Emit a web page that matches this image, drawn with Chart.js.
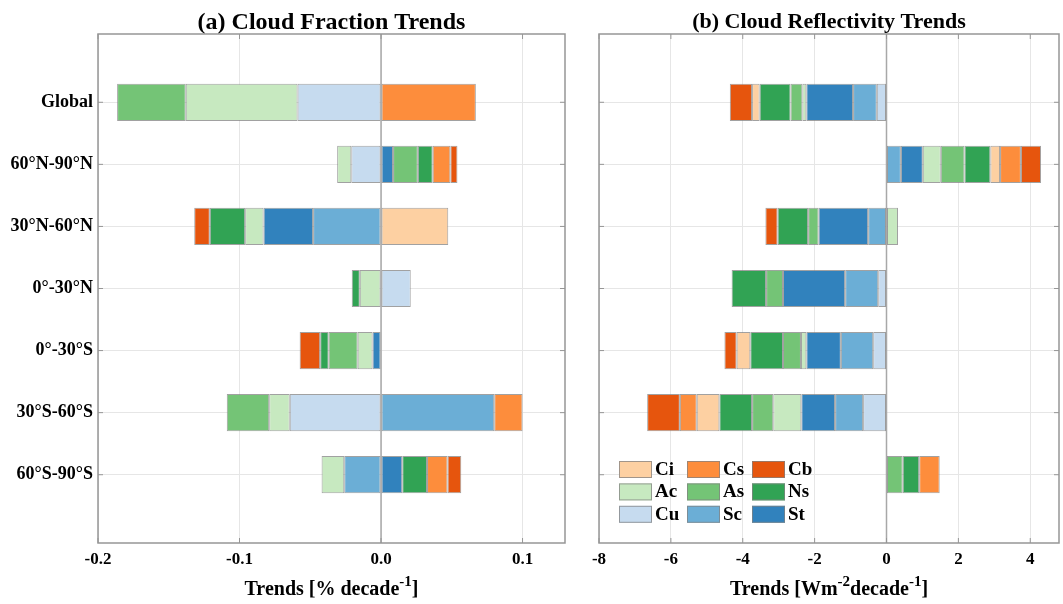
<!DOCTYPE html>
<html>
<head>
<meta charset="utf-8">
<script src="https://cdn.jsdelivr.net/npm/chart.js@4.4.1/dist/chart.umd.min.js"></script>
<style>
html, body { margin: 0; padding: 0; background: #fff; }
#cf { position: absolute; left: 0; top: 0; }
#cr { position: absolute; left: 575px; top: 0; }
</style>
</head>
<body>
<canvas id="cf" width="575" height="604"></canvas>
<canvas id="cr" width="488" height="604"></canvas>
<script>
const regions = ['Global', '60°N-90°N', '30°N-60°N', '0°-30°N', '0°-30°S', '30°S-60°S', '60°S-90°S'];
// stacking order, first one sits next to zero
const cloudTypes = ['Cu', 'Sc', 'St', 'Ac', 'As', 'Ns', 'Ci', 'Cs', 'Cb'];
const typeColors = ['#c6dbef', '#6baed6', '#3182bd', '#c7e9c0', '#74c476', '#31a354', '#fdd0a2', '#fd8d3c', '#e6550d'];
const legendOrder = ['Ci', 'Cs', 'Cb', 'Ac', 'As', 'Ns', 'Cu', 'Sc', 'St'];

// (a) cloud fraction trends, % decade^-1, one value per region
const cfCu = [-0.059, -0.021, 0, 0.021, 0, -0.0645, 0];
const cfSc = [0, 0, -0.048, 0, 0, 0.080, -0.026];
const cfSt = [0, 0.0085, -0.035, 0, -0.006, 0, 0.015];
const cfAc = [-0.079, -0.010, -0.013, -0.015, -0.0105, -0.0145, -0.016];
const cfAs = [-0.0485, 0.0175, 0, 0, -0.0205, -0.030, 0];
const cfNs = [0, 0.0105, -0.025, -0.0057, -0.006, 0, 0.0175];
const cfCi = [0, 0, 0.0475, 0, 0, 0, 0];
const cfCs = [0.067, 0.0125, 0, 0, 0, 0.020, 0.0145];
const cfCb = [0, 0.005, -0.011, 0, -0.0145, 0, 0.0097];

// (b) cloud reflectivity trends, Wm^-2 decade^-1
const crCu = [-0.27, 0, 0, -0.23, -0.37, -0.65, 0];
const crSc = [-0.66, 0.40, -0.51, -0.92, -0.90, -0.78, 0];
const crSt = [-1.30, 0.61, -1.38, -1.73, -0.96, -0.94, 0];
const crAc = [-0.11, 0.50, 0.32, 0, -0.15, -0.78, 0];
const crAs = [-0.33, 0.66, -0.29, -0.47, -0.50, -0.59, 0.45];
const crNs = [-0.86, 0.72, -0.85, -0.96, -0.91, -0.91, 0.46];
const crCi = [-0.21, 0.27, 0, 0, -0.38, -0.63, 0];
const crCs = [0, 0.58, 0, 0, 0, -0.47, 0.57];
const crCb = [-0.62, 0.56, -0.34, 0, -0.34, -0.91, 0];

const cfTicks = [-0.2, -0.1, 0, 0.1];
const crTicks = [-8, -6, -4, -2, 0, 2, 4];

const FONT = "'Liberation Serif', 'Times New Roman', serif";
const EDGE = '#969696';

function makeDatasets(series) {
    return cloudTypes.map((t, k) => ({
        label: t,
        data: series[k].map((v, i) => ({ x: v, y: i + 1 })).filter(p => p.x !== 0),
        backgroundColor: typeColors[k],
        borderColor: 'rgba(130,130,130,0.75)',
        borderWidth: 1,
        borderSkipped: false,
        barPercentage: 0.6,
        categoryPercentage: 1
    }));
}

// zero line, box with inner ticks, axis title with superscripts, legend
const framePlugin = {
    id: 'frame',
    beforeDatasetsDraw(chart) {
        const ctx = chart.ctx, ca = chart.chartArea;
        const x0 = chart.scales.x.getPixelForValue(0);
        ctx.save();
        ctx.strokeStyle = '#a8a8a8';
        ctx.lineWidth = 1.5;
        ctx.beginPath();
        ctx.moveTo(x0, ca.top);
        ctx.lineTo(x0, ca.bottom);
        ctx.stroke();
        ctx.restore();
    },
    afterDraw(chart, args, opts) {
        const ctx = chart.ctx, ca = chart.chartArea;
        const sx = chart.scales.x, sy = chart.scales.y;
        ctx.save();
        ctx.strokeStyle = EDGE;
        ctx.lineWidth = 1.5;
        ctx.strokeRect(ca.left, ca.top, ca.right - ca.left, ca.bottom - ca.top);
        ctx.lineWidth = 1;
        ctx.beginPath();
        sx.ticks.forEach(t => {
            const x = sx.getPixelForValue(t.value);
            ctx.moveTo(x, ca.bottom); ctx.lineTo(x, ca.bottom - 5);
            ctx.moveTo(x, ca.top); ctx.lineTo(x, ca.top + 5);
        });
        sy.ticks.forEach(t => {
            const y = sy.getPixelForValue(t.value);
            ctx.moveTo(ca.left, y); ctx.lineTo(ca.left + 5, y);
            ctx.moveTo(ca.right, y); ctx.lineTo(ca.right - 5, y);
        });
        ctx.stroke();

        // x axis title
        const parts = opts.xTitle;
        const big = 'bold 20px ' + FONT, small = 'bold 15px ' + FONT;
        let w = 0;
        parts.forEach(p => { ctx.font = p.sup ? small : big; w += ctx.measureText(p.t).width; });
        let x = (ca.left + ca.right) / 2 - w / 2;
        ctx.fillStyle = '#000';
        ctx.textBaseline = 'alphabetic';
        ctx.textAlign = 'left';
        parts.forEach(p => {
            ctx.font = p.sup ? small : big;
            ctx.fillText(p.t, x, p.sup ? 586 : 595);
            x += ctx.measureText(p.t).width;
        });

        if (opts.legend) {
            const colX = [20, 88, 153];
            ctx.font = 'bold 19px ' + FONT;
            ctx.textBaseline = 'middle';
            legendOrder.forEach((name, n) => {
                const ds = chart.data.datasets.find(d => d.label === name);
                const px = ca.left + colX[n % 3];
                const py = ca.bottom - 82 + Math.floor(n / 3) * 22.4;
                ctx.fillStyle = ds.backgroundColor;
                ctx.fillRect(px, py, 33, 17);
                ctx.strokeStyle = 'rgba(130,130,130,0.75)';
                ctx.strokeRect(px + 0.5, py + 0.5, 32, 16);
                ctx.fillStyle = '#000';
                ctx.fillText(name, px + 36, py + 9);
            });
        }
        ctx.restore();
    }
};

function makeChart(id, series, xMin, xMax, xTicks, fmt, cfg) {
    return new Chart(document.getElementById(id), {
        type: 'bar',
        data: { datasets: makeDatasets(series) },
        options: {
            indexAxis: 'y',
            responsive: false,
            animation: false,
            layout: { padding: { left: 0, right: cfg.padRight, top: 0, bottom: 0 } },
            scales: {
                x: {
                    type: 'linear', stacked: true, min: xMin, max: xMax,
                    afterBuildTicks: s => { s.ticks = xTicks.map(v => ({ value: v })); },
                    afterFit: s => { s.height = 61; },
                    grid: { color: '#e6e6e6', drawTicks: false },
                    border: { display: false },
                    ticks: { padding: 6, color: '#000', font: { family: FONT, size: 17, weight: 'bold' }, callback: fmt }
                },
                y: {
                    type: 'linear', stacked: true, reverse: true, min: -0.1, max: 8.1,
                    offset: false,
                    afterBuildTicks: s => { s.ticks = regions.map((r, i) => ({ value: i + 1 })); },
                    afterFit: s => { s.width = cfg.yWidth; },
                    grid: { color: '#e6e6e6', drawTicks: false, offset: false },
                    border: { display: false },
                    ticks: {
                        display: cfg.showY, padding: 5, color: '#000',
                        font: { family: FONT, size: 18, weight: 'bold' },
                        callback: v => regions[v - 1]
                    }
                }
            },
            plugins: {
                legend: { display: false },
                tooltip: { enabled: false },
                title: {
                    display: true, text: cfg.title, fullSize: false, color: '#000',
                    font: { family: FONT, size: cfg.titleSize, weight: 'bold', lineHeight: cfg.titleLH },
                    padding: cfg.titlePad
                },
                frame: { xTitle: cfg.xTitle, legend: cfg.legend }
            }
        },
        plugins: [framePlugin]
    });
}

makeChart('cf', [cfCu, cfSc, cfSt, cfAc, cfAs, cfNs, cfCi, cfCs, cfCb], -0.2, 0.13, cfTicks,
    v => v.toFixed(1), {
        padRight: 10, yWidth: 98, showY: true, legend: false,
        title: '(a) Cloud Fraction Trends',
        titleSize: 24, titleLH: 0.9, titlePad: { top: 12.2, bottom: 0.2 },
        xTitle: [{ t: 'Trends [% decade' }, { t: '-1', sup: true }, { t: ']' }]
    });

makeChart('cr', [crCu, crSc, crSt, crAc, crAs, crNs, crCi, crCs, crCb], -8, 4.8, crTicks,
    v => String(v), {
        padRight: 4, yWidth: 24, showY: false, legend: true,
        title: '(b) Cloud Reflectivity Trends',
        titleSize: 22, titleLH: 1, titlePad: { top: 11.6, bottom: 0.4 },
        xTitle: [{ t: 'Trends [Wm' }, { t: '-2', sup: true }, { t: 'decade' }, { t: '-1', sup: true }, { t: ']' }]
    });
</script>
</body>
</html>
